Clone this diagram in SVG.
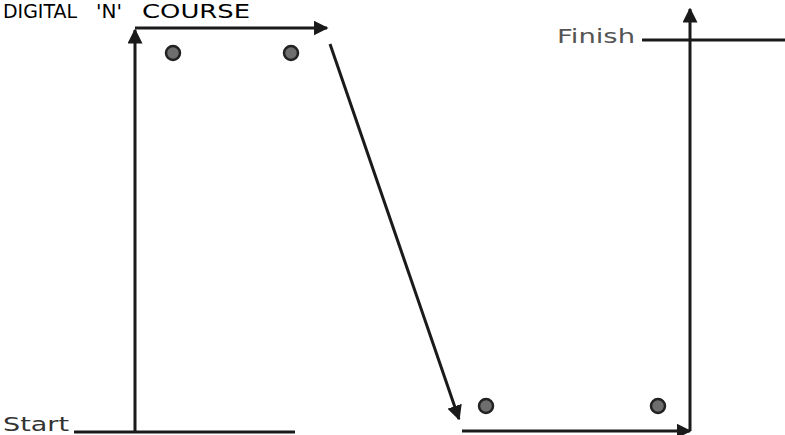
<svg xmlns="http://www.w3.org/2000/svg" width="785" height="435" viewBox="0 0 785 435">
<style>
.ln{stroke:#1a1a1a;stroke-width:3;fill:none}
.ar{stroke:#1a1a1a;stroke-width:3;fill:none;marker-end:url(#ah)}
.dot{fill:#6e6e6e;stroke:#222;stroke-width:2.5}
.lbl{font-family:"DejaVu Sans",sans-serif;font-size:20px}
</style>
<defs>
<marker id="ah" viewBox="0 0 10 10" refX="9" refY="5" markerWidth="5" markerHeight="5" orient="auto" markerUnits="strokeWidth">
<path d="M0,0 L10,5 L0,10 z" fill="#1a1a1a"/>
</marker>
</defs>
<rect width="785" height="435" fill="#fff"/>
<g id="title">
<text class="lbl" y="18" font-size="13" fill="#000"><tspan x="3" textLength="74" lengthAdjust="spacingAndGlyphs">DIGITAL</tspan><tspan x="96">'N'</tspan><tspan x="142" textLength="108" lengthAdjust="spacingAndGlyphs">COURSE</tspan></text>
</g>
<g id="start">
<text class="lbl" x="3" y="431" fill="#333" textLength="66" lengthAdjust="spacingAndGlyphs">Start</text>
<line class="ln" x1="74" y1="432" x2="295" y2="432"/>
</g>
<g id="finish">
<text class="lbl" x="557" y="43" fill="#555" textLength="78" lengthAdjust="spacingAndGlyphs">Finish</text>
<line class="ln" x1="642" y1="40" x2="785" y2="40"/>
</g>
<g id="dots">
<circle class="dot" cx="173" cy="53" r="7"/>
<circle class="dot" cx="291" cy="53" r="7"/>
<circle class="dot" cx="486" cy="406" r="7"/>
<circle class="dot" cx="658" cy="406" r="7"/>
</g>
<g id="connectors">
<line class="ar" x1="135" y1="432" x2="135" y2="30"/>
<line class="ar" x1="135" y1="28" x2="327" y2="28"/>
<line class="ar" x1="330" y1="44" x2="459" y2="419"/>
<line class="ar" x1="462" y1="431" x2="690" y2="431"/>
<line class="ar" x1="690" y1="431" x2="690" y2="9"/>
</g>
</svg>
